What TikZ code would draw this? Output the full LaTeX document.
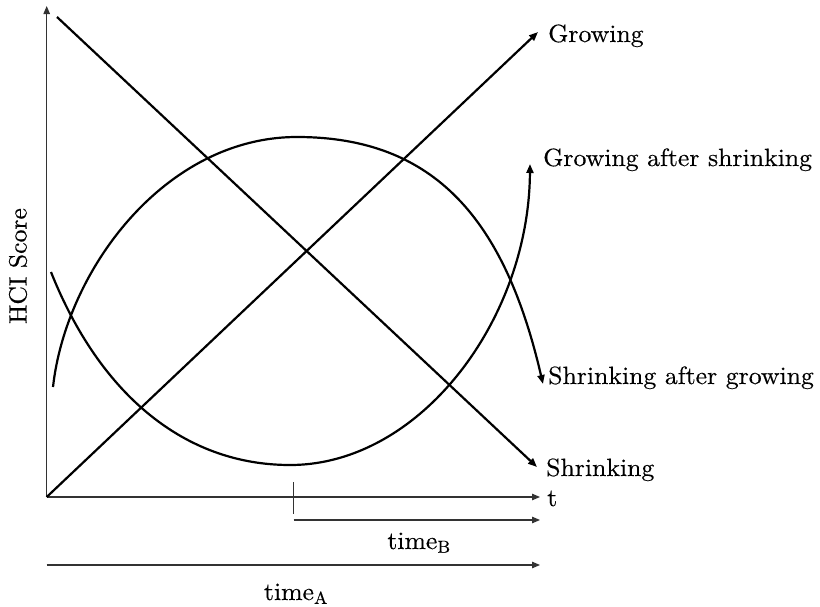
\documentclass[tikz,border=0pt]{standalone}
\usepackage{fontspec}
\newfontfamily\lmwide{lmroman10-regular.otf}[FakeStretch=1.03,FakeBold=0.3]
\usetikzlibrary{arrows.meta}
\begin{document}
\begin{tikzpicture}[x=1pt,y=-1pt,
  every node/.style={font=\lmwide\fontsize{25}{30}\selectfont, inner sep=0pt},
  axisline/.style={line width=1.1pt, draw=black!80, -{Triangle[length=8pt,width=6.5pt]}},
  trend/.style={line width=2.2pt, draw=black, -{Triangle[length=9pt,width=7pt]}},
  lbl/.style={anchor=base west}]
\useasboundingbox (0,0) rectangle (820,606);
% axes
\coordinate (O) at (46.7,497);
\coordinate (ytip) at (46.7,6);
\coordinate (xtip) at (540,497);
\draw[axisline] (O) -- (ytip);
\draw[axisline] (O) -- (xtip);
\node[lbl] (tlab) at (547,506) {t};
\node[rotate=90] (ylab) at (18,266) {HCI Score};
% tick and time arrows
\coordinate (tickT) at (293.5,482);
\coordinate (tickB) at (293.5,514);
\draw[line width=1.1pt, black!80] (tickT) -- (tickB);
\coordinate (bS) at (293.5,520);
\coordinate (bE) at (540,520);
\draw[axisline] (bS) -- (bE);
\node[anchor=base] (tB) at (419,549) {time\textsubscript{B}};
\coordinate (aS) at (46.7,565);
\coordinate (aE) at (540,565);
\draw[axisline] (aS) -- (aE);
\node[anchor=base] (tA) at (296,600) {time\textsubscript{A}};
% straight trends
\coordinate (gtip) at (538,32);
\draw[trend] (O) -- (gtip);
\node[lbl] (glab) at (548,42) {Growing};
\coordinate (sstart) at (57,17);
\coordinate (stip) at (537,467);
\draw[trend] (sstart) -- (stip);
\node[lbl] (slab) at (546,476) {Shrinking};
% growing after shrinking
\coordinate (c1s) at (51,272);
\coordinate (c1m) at (290,465);
\coordinate (c1e) at (530,164);
\draw[trend] (c1s) .. controls (100,395) and (185,465) .. (c1m)
  .. controls (420,465) and (529,320) .. (c1e);
\node[lbl] (gaslab) at (543,166) {Growing after shrinking};
% shrinking after growing
\coordinate (c2s) at (53,387);
\coordinate (c2m) at (297,137);
\coordinate (c2e) at (543,384);
\draw[trend] (c2s) .. controls (66,270) and (165,137) .. (c2m)
  .. controls (435,137) and (505,220) .. (c2e);
\node[lbl] (saglab) at (548,384) {Shrinking after growing};
\end{tikzpicture}
\end{document}
